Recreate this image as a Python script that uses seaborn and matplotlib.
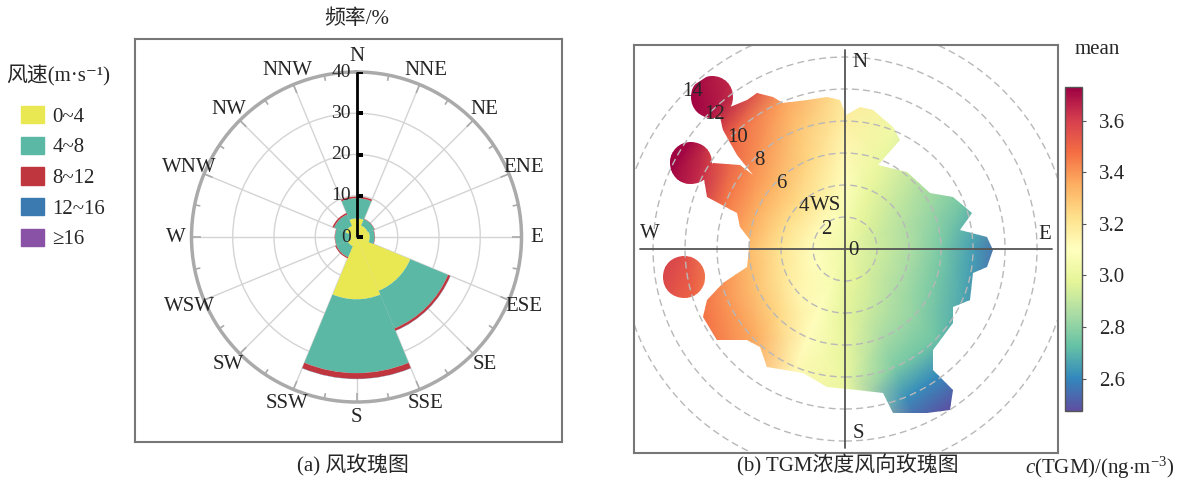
import numpy as np
import matplotlib
matplotlib.use("Agg")
import matplotlib.pyplot as plt
import seaborn as sns
from matplotlib.patches import Patch, Polygon, Circle
from matplotlib.path import Path

sns.set_style("white")
plt.rcParams['font.family'] = ['Liberation Serif', 'Noto Sans CJK SC', 'DejaVu Sans']
plt.rcParams['mathtext.fontset'] = 'custom'
plt.rcParams['mathtext.rm'] = 'Liberation Serif'
plt.rcParams['mathtext.it'] = 'Liberation Serif:italic'
plt.rcParams['font.size'] = 15

# ---- (a) wind rose data: frequency (%) per sector and speed class
sectors = ['N', 'NE', 'E', 'SE', 'S', 'SW', 'W', 'NW']
speed_bins = ['0~4', '4~8', '8~12', '12~16', '≥16']
freq_0_4 = [4.5, 3.0, 3.2, 14.1, 15.1, 2.4, 1.5, 2.9]
freq_4_8 = [4.9, 1.7, 1.2, 9.9, 17.9, 2.9, 3.7, 3.0]
freq_8_12 = [0.4, 0.1, 0.1, 0.6, 1.4, 0.3, 0.1, 0.4]
freq_12_16 = [0.0, 0.0, 0.0, 0.05, 0.05, 0.0, 0.0, 0.0]
freq_16 = [0.0, 0.0, 0.0, 0.0, 0.0, 0.0, 0.0, 0.0]
compass16 = ['N', 'NNE', 'NE', 'ENE', 'E', 'ESE', 'SE', 'SSE',
             'S', 'SSW', 'SW', 'WSW', 'W', 'WNW', 'NW', 'NNW']
freq_ticks = [0, 10, 20, 30, 40]
bin_colors = ['#e9e852', '#5ab8a5', '#c0363f', '#3a7ab0', '#8a52a6']

# ---- (b) TGM mean concentration (ng/m3) by wind direction and wind speed
rose_dirs = [0, 22.5, 45, 67.5, 90, 112.5, 135, 157.5,
             180, 202.5, 225, 247.5, 270, 292.5, 315, 337.5]
rose_speeds = [0, 2, 4, 6, 8, 10, 12, 14]
tgm_mean = [
    [3.02, 3.05, 3.09, 3.13, 3.17, 3.20, 3.22, 3.24],  # N
    [3.02, 3.00, 2.99, 3.00, 3.02, 3.03, 3.03, 3.03],  # NNE
    [3.02, 2.96, 2.92, 2.89, 2.87, 2.85, 2.84, 2.83],  # NE
    [3.02, 2.93, 2.87, 2.81, 2.75, 2.71, 2.67, 2.64],  # ENE
    [3.02, 2.93, 2.86, 2.76, 2.65, 2.52, 2.48, 2.48],  # E
    [3.02, 2.93, 2.85, 2.76, 2.67, 2.57, 2.50, 2.48],  # ESE
    [3.02, 2.94, 2.87, 2.81, 2.74, 2.60, 2.48, 2.48],  # SE
    [3.02, 2.97, 2.92, 2.85, 2.77, 2.62, 2.50, 2.48],  # SSE
    [3.02, 3.00, 2.98, 2.99, 3.00, 3.00, 3.00, 3.00],  # S
    [3.02, 3.06, 3.09, 3.11, 3.13, 3.15, 3.17, 3.19],  # SSW
    [3.02, 3.08, 3.14, 3.25, 3.36, 3.42, 3.46, 3.50],  # SW
    [3.02, 3.10, 3.19, 3.30, 3.40, 3.48, 3.53, 3.57],  # WSW
    [3.02, 3.11, 3.21, 3.32, 3.42, 3.56, 3.62, 3.66],  # W
    [3.02, 3.12, 3.23, 3.35, 3.46, 3.64, 3.75, 3.75],  # WNW
    [3.02, 3.12, 3.23, 3.33, 3.42, 3.50, 3.70, 3.75],  # NW
    [3.02, 3.09, 3.18, 3.25, 3.30, 3.37, 3.52, 3.62],  # NNW
]
tgm_min, tgm_max = 2.475, 3.73
cbar_ticks = [2.6, 2.8, 3.0, 3.2, 3.4, 3.6]
ws_rings = [2, 4, 6, 8, 10, 12, 14]

# observed extent of the surface (u = east, v = north, m/s)
outline_u = [-0.31, 0.06, 0.94, 1.75, 3.0, 3.44, 2.06, 3.88, 5.31, 6.75, 7.94, 7.19,
             8.88, 9.25, 8.88, 8.0, 7.81, 6.75, 6.75, 5.5, 5.5, 6.75, 6.56, 5.13,
             3.0, 2.38, 0.75, -1.13, -2.63, -4.88, -5.31, -6.13, -8.0, -8.88, -8.63,
             -7.63, -6.13, -5.94, -6.56, -6.75, -8.63, -8.88, -8.25, -6.56, -5.75,
             -6.75, -7.63, -7.81, -7.19, -6.13, -5.5, -4.5, -3.88, -2.38, -1.13]
outline_v = [9.31, 8.4, 8.88, 8.69, 7.63, 6.81, 5.25, 4.81, 3.5, 3.25, 2.25, 1.19,
             0.75, -0.06, -1.13, -1.5, -3.19, -3.63, -4.63, -6.31, -7.56, -8.81,
             -10.06, -10.25, -10.25, -9.0, -8.81, -8.63, -7.75, -7.38, -6.13, -5.69,
             -5.69, -4.25, -3.19, -2.13, -1.13, 0.56, 1.38, 2.25, 3.25, 4.75, 5.38,
             5.25, 4.63, 5.88, 7.44, 8.25, 8.88, 9.31, 9.75, 9.5, 9.13, 9.31, 9.5]
blob_u = [-8.31, -9.63, -10.06]
blob_v = [9.5, 5.38, -1.75]

fig = plt.figure(figsize=(11.83, 4.84), dpi=100)

# ---------------- (a) wind rose ----------------
box = fig.add_axes([135 / 1183, 42 / 484, 427 / 1183, 403 / 484])
box.set_xticks([])
box.set_yticks([])
for sp in box.spines.values():
    sp.set_color('#777777')
    sp.set_linewidth(1.5)

ax1 = fig.add_axes([191.5 / 1183, 82 / 484, 330 / 1183, 330 / 484], projection='polar')
ax1.set_facecolor('none')
ax1.set_theta_zero_location('N')
ax1.set_theta_direction(-1)
ax1.set_ylim(0, 40)
ax1.set_xticks(np.deg2rad(np.arange(0, 360, 22.5)))
ax1.set_xticklabels([])
ax1.set_yticks([10, 20, 30])
ax1.set_yticklabels([])
ax1.tick_params(length=0)
ax1.grid(True, color='#d4d4d4', lw=1)
ax1.set_axisbelow(True)
ax1.spines['polar'].set_color('#aaaaaa')
ax1.spines['polar'].set_linewidth(2.5)

theta = np.deg2rad(np.arange(len(sectors)) * 45)
bottom = np.zeros(len(sectors))
for vals, col in zip([freq_0_4, freq_4_8, freq_8_12, freq_12_16, freq_16], bin_colors):
    ax1.bar(theta, vals, width=np.pi / 4, bottom=bottom, color=col,
            edgecolor='none', zorder=2)
    bottom += np.array(vals)

minor = np.deg2rad(np.arange(11.25, 360, 22.5))
major = np.deg2rad(np.arange(0, 360, 22.5))
ax1.vlines(minor, 38.6, 40, colors='#aaaaaa', lw=1.2, zorder=3)
ax1.vlines(major, 37.8, 40, colors='#aaaaaa', lw=1.2, zorder=3)

for i, name in enumerate(compass16):
    ax1.text(np.deg2rad(i * 22.5), 43.8, name, ha='center', va='center',
             fontsize=15, clip_on=False)

ax1.plot([0, 0], [0, 40], color='black', lw=2, zorder=5, solid_capstyle='butt')
tick_marker = Path([(0, 0), (1, 0)])
for r in freq_ticks:
    ax1.plot([0], [r], marker=tick_marker, ms=9, mew=1.5, color='black', zorder=5)
    ax1.annotate(str(r), (0, r), xytext=(-4, 0), textcoords='offset points',
                 ha='right', va='center', fontsize=14, zorder=6)

fig.text(357 / 1183, 1 - 19 / 484, '频率/%', ha='center', va='center', fontsize=15)
fig.text(353 / 1183, 1 - 465 / 484, '(a) 风玫瑰图', ha='center', va='center', fontsize=15)

# legend (title as separate text so the gap matches)
fig.text(58 / 1183, 1 - 76 / 484, '风速(m·s⁻¹)', ha='center', va='center', fontsize=15)
handles = [Patch(facecolor=c, edgecolor=c) for c in bin_colors]
fig.legend(handles, speed_bins, loc='upper left',
           bbox_to_anchor=(21 / 1183, 1 - 106 / 484), frameon=False, fontsize=15,
           handlelength=1.1, handleheight=0.9, handletextpad=0.4,
           labelspacing=0.47, borderpad=0, borderaxespad=0)

# ---------------- (b) TGM polar plot ----------------
ax2 = fig.add_axes([634 / 1183, 31 / 484, 424 / 1183, 408 / 484])
ax2.set_xlim(-13.19, 13.31)
ax2.set_ylim(-12.75, 12.75)
ax2.set_xticks([])
ax2.set_yticks([])
for sp in ax2.spines.values():
    sp.set_color('#777777')
    sp.set_linewidth(1.5)

cmap = sns.color_palette('Spectral_r', as_cmap=True)
d = np.deg2rad(np.append(rose_dirs, 360))
S, D = np.meshgrid(rose_speeds, d)
X = S * np.sin(D)
Y = S * np.cos(D)
C = np.array(tgm_mean)
C = np.vstack([C, C[:1]])

clips = [Polygon(np.column_stack([outline_u, outline_v]), closed=True,
                 transform=ax2.transData)]
clips += [Circle((u, v), 1.3, transform=ax2.transData) for u, v in zip(blob_u, blob_v)]
for clip in clips:
    mesh = ax2.pcolormesh(X, Y, C, shading='gouraud', cmap=cmap,
                          vmin=tgm_min, vmax=tgm_max, zorder=1)
    mesh.set_clip_path(clip)

for r in ws_rings:
    ax2.add_patch(Circle((0, 0), r, fill=False, ls=(0, (5, 3)), ec='#b8b8b8',
                         lw=1, zorder=2))

ax2.axhline(0, xmin=0.014, xmax=0.986, color='#555555', lw=1.3, zorder=3)
ax2.axvline(0, ymin=0.012, ymax=0.988, color='#555555', lw=1.3, zorder=3)

for lab, (u, v) in zip(['N', 'E', 'S', 'W'],
                       [(0.94, 11.63), (12.5, 0.88), (0.81, -11.5), (-12.19, 1.0)]):
    ax2.text(u, v, lab, ha='center', va='center', fontsize=15, zorder=4)

lab_dir = np.deg2rad(316)
for s in [2, 4, 6, 8, 10, 12, 14]:
    rr = s - 0.3
    ax2.text(rr * np.sin(lab_dir), rr * np.cos(lab_dir), str(s), ha='center',
             va='center', fontsize=15, zorder=4)
ax2.text(-2.2, 2.72, 'WS', ha='left', va='center', fontsize=15, zorder=4)
ax2.annotate('0', (0, 0), xytext=(6, -1), textcoords='offset points',
             ha='center', va='center', fontsize=15, zorder=4)

fig.text(848 / 1183, 1 - 465 / 484, '(b) TGM浓度风向玫瑰图', ha='center', va='center',
         fontsize=15)

cax = fig.add_axes([1065 / 1183, 73 / 484, 17 / 1183, 324 / 484])
cb = fig.colorbar(mesh, cax=cax, ticks=cbar_ticks)
cb.ax.set_yticklabels([f'{t:.1f}' for t in cbar_ticks])
cb.ax.tick_params(labelsize=15, length=3, width=0.8, color='#555555', pad=9)
cb.outline.set_edgecolor('#555555')
cb.outline.set_linewidth(1)
fig.text(1097 / 1183, 1 - 50 / 484, 'mean', ha='center', va='center', fontsize=15)
fig.text(1100 / 1183, 1 - 468 / 484, r'$c$(TGM)/(ng$\cdot$m$^{-3}$)', ha='center',
         va='center', fontsize=15)

fig.savefig('out.png', dpi=100)
